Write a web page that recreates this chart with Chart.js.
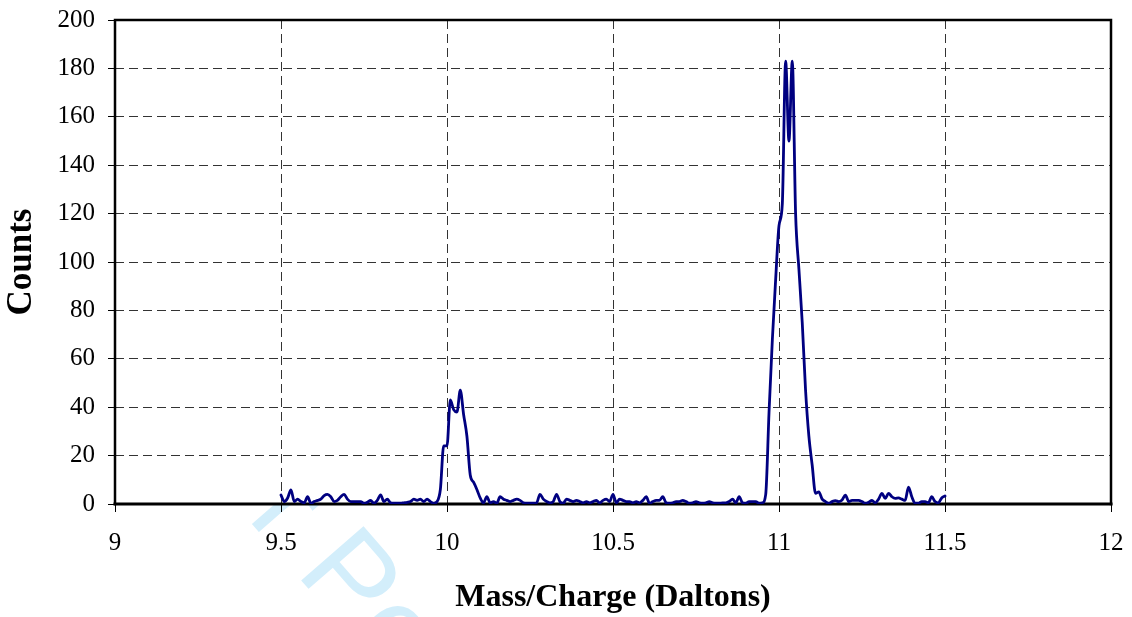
<!DOCTYPE html>
<html>
<head>
<meta charset="utf-8">
<script src="https://cdn.jsdelivr.net/npm/chart.js@4.4.1/dist/chart.umd.min.js"></script>
<style>
  html, body { margin: 0; padding: 0; background: #ffffff; }
  #wrap { width: 1132px; height: 617px; }
</style>
</head>
<body>
<div id="wrap"><canvas id="c" width="1132" height="617" style="width:1132px;height:617px"></canvas></div>
<script>
// ---------------- data ----------------
const masses = [
  9.50, 9.51, 9.52, 9.53, 9.54, 9.55, 9.56, 9.57, 9.58, 9.59,
  9.60, 9.61, 9.62, 9.63, 9.64, 9.65, 9.66, 9.67, 9.68, 9.69,
  9.70, 9.71, 9.72, 9.73, 9.74, 9.75, 9.76, 9.77, 9.78, 9.79,
  9.80, 9.81, 9.82, 9.83, 9.84, 9.85, 9.86, 9.87, 9.88, 9.89,
  9.90, 9.91, 9.92, 9.93, 9.94, 9.95, 9.96, 9.97, 9.98, 9.99,
  10.00, 10.01, 10.02, 10.03, 10.04, 10.05, 10.06, 10.07, 10.08, 10.09,
  10.10, 10.11, 10.12, 10.13, 10.14, 10.15, 10.16, 10.17, 10.18, 10.19,
  10.20, 10.21, 10.22, 10.23, 10.24, 10.25, 10.26, 10.27, 10.28, 10.29,
  10.30, 10.31, 10.32, 10.33, 10.34, 10.35, 10.36, 10.37, 10.38, 10.39,
  10.40, 10.41, 10.42, 10.43, 10.44, 10.45, 10.46, 10.47, 10.48, 10.49,
  10.50, 10.51, 10.52, 10.53, 10.54, 10.55, 10.56, 10.57, 10.58, 10.59,
  10.60, 10.61, 10.62, 10.63, 10.64, 10.65, 10.66, 10.67, 10.68, 10.69,
  10.70, 10.71, 10.72, 10.73, 10.74, 10.75, 10.76, 10.77, 10.78, 10.79,
  10.80, 10.81, 10.82, 10.83, 10.84, 10.85, 10.86, 10.87, 10.88, 10.89,
  10.90, 10.91, 10.92, 10.93, 10.94, 10.95, 10.96, 10.97, 10.98, 10.99,
  11.00, 11.01, 11.02, 11.03, 11.04, 11.05, 11.06, 11.07, 11.08, 11.09,
  11.10, 11.11, 11.12, 11.13, 11.14, 11.15, 11.16, 11.17, 11.18, 11.19,
  11.20, 11.21, 11.22, 11.23, 11.24, 11.25, 11.26, 11.27, 11.28, 11.29,
  11.30, 11.31, 11.32, 11.33, 11.34, 11.35, 11.36, 11.37, 11.38, 11.39,
  11.40, 11.41, 11.42, 11.43, 11.44, 11.45, 11.46, 11.47, 11.48, 11.49,
  11.50
];

const counts = [
  3.7, 1, 2.5, 5.8, 1, 2, 1, 0.5, 3, 0.3,
  1, 1.5, 2, 3.5, 4, 3, 1, 1.5, 3, 4,
  2, 1, 1, 1, 1, 0.3, 0.7, 1.5, 0.3, 1.5,
  3.8, 1, 2, 0.5, 0.3, 0.3, 0.3, 0.5, 0.7, 1,
  2, 1.5, 2, 1, 2, 1, 0.3, 1, 6, 24,
  24, 43, 39, 38, 47, 37, 28, 12, 9, 6,
  2.5, 0.5, 3, 0.5, 1, 0.3, 3, 2, 1.5, 1,
  1.5, 2, 1.5, 0.5, 0.3, 0.3, 0.3, 0.5, 4, 2,
  1, 0.5, 1, 4, 1, 0.3, 2, 1.5, 1, 1.5,
  1, 0.5, 1, 0.5, 1, 1.5, 0.5, 1.5, 2, 1,
  4, 0.5, 2, 1.5, 1, 1, 0.5, 1, 0.5, 1.5,
  3, 0.3, 1, 1.5, 1.5, 3, 0.5, 0.3, 0.5, 1,
  1, 1.5, 1, 0.3, 0.5, 1, 0.5, 0.3, 0.5, 1,
  0.5, 0.3, 0.3, 0.5, 0.5, 1, 2, 0.5, 3, 0.5,
  0.3, 1, 1, 1, 0.3, 0.5, 4, 38, 68, 93,
  115, 124, 183, 150, 183, 120, 97, 75, 47, 28,
  16, 4.4, 5, 2, 1, 0.3, 1, 1.4, 1, 1.7,
  3.7, 1, 1.5, 1.5, 1.5, 1, 0.3, 0.7, 1.5, 0.5,
  2, 4.4, 2.3, 4.4, 3, 2.3, 2.5, 2, 1.5, 7,
  3, 0.3, 0.3, 1, 1, 0.5, 3, 1, 0.5, 2.5,
  3.3
];

const xTickValues = [9, 9.5, 10, 10.5, 11, 11.5, 12];
const xTickLabels = ['9', '9.5', '10', '10.5', '11', '11.5', '12'];
const yTickValues = [0, 20, 40, 60, 80, 100, 120, 140, 160, 180, 200];
const yTickLabels = ['0', '20', '40', '60', '80', '100', '120', '140', '160', '180', '200'];

const xTitle = 'Mass/Charge (Daltons)';
const yTitle = 'Counts';
const watermarkText = 'For Peer Review';

// ---------------- styling ----------------
const SERIF = '"Liberation Serif", "Times New Roman", Times, serif';
const tickFont = { family: SERIF, size: 25 };
const xTitleFont = { family: SERIF, size: 32, weight: 'bold' };
const yTitleFont = { family: SERIF, size: 35, weight: 'bold' };

const backgroundPlugin = {
  id: 'bg',
  beforeDraw(chart) {
    const { ctx, chartArea: a } = chart;
    ctx.save();
    ctx.fillStyle = '#ffffff';
    ctx.fillRect(0, 0, chart.width, chart.height);
    // watermark (behind the white plot area)
    ctx.translate(154.7, 412);
    ctx.rotate(49 * Math.PI / 180);
    ctx.fillStyle = '#d3eefb';
    ctx.font = '120px "Liberation Sans", Arial, sans-serif';
    ctx.textBaseline = 'alphabetic';
    ctx.textAlign = 'left';
    ctx.fillText(watermarkText, 0, 0);
    ctx.restore();
    ctx.save();
    ctx.fillStyle = '#ffffff';
    ctx.fillRect(a.left, a.top, a.right - a.left, a.bottom - a.top);
    ctx.restore();
  }
};

const framePlugin = {
  id: 'frame',
  beforeDatasetsDraw(chart) {
    const { ctx, chartArea: a } = chart;
    ctx.save();
    ctx.strokeStyle = '#000000';
    ctx.lineCap = 'square';
    ctx.lineWidth = 2.5;
    ctx.beginPath();
    ctx.moveTo(a.left, a.bottom);
    ctx.lineTo(a.left, a.top);
    ctx.lineTo(a.right, a.top);
    ctx.lineTo(a.right, a.bottom);
    ctx.stroke();
    ctx.lineWidth = 3;
    ctx.beginPath();
    ctx.moveTo(a.left, a.bottom);
    ctx.lineTo(a.right, a.bottom);
    ctx.stroke();
    ctx.restore();
  }
};

const ctx = document.getElementById('c').getContext('2d');
new Chart(ctx, {
  type: 'line',
  data: {
    datasets: [{
      data: masses.map((m, i) => ({ x: m, y: counts[i] })),
      borderColor: '#000080',
      borderWidth: 2.8,
      pointRadius: 0,
      fill: false,
      cubicInterpolationMode: 'monotone',
      borderJoinStyle: 'round',
      borderCapStyle: 'round'
    }]
  },
  options: {
    responsive: false,
    animation: false,
    devicePixelRatio: 1,
    layout: { padding: { top: 20, right: 21, left: 0, bottom: 0 } },
    plugins: { legend: { display: false }, tooltip: { enabled: false } },
    scales: {
      x: {
        type: 'linear',
        min: 9, max: 12,
        afterBuildTicks: s => { s.ticks = xTickValues.map(v => ({ value: v })); },
        ticks: {
          color: '#000',
          font: tickFont,
          padding: 16,
          maxRotation: 0,
          autoSkip: false,
          callback: v => { const i = xTickValues.indexOf(v); return i >= 0 ? xTickLabels[i] : ''; }
        },
        grid: {
          color: '#333',
          lineWidth: 1,
          drawTicks: true,
          tickLength: 8,
          tickColor: '#000',
          tickWidth: 1
        },
        border: { display: false, dash: [9, 5] },
        title: { display: true, text: xTitle, color: '#000', font: xTitleFont, padding: { top: 0, bottom: 0 } },
        afterFit: s => { s.height = 113; s.paddingLeft = 0; s.paddingRight = 0; }
      },
      y: {
        type: 'linear',
        min: 0, max: 200,
        afterBuildTicks: s => { s.ticks = yTickValues.map(v => ({ value: v })); },
        ticks: {
          color: '#000',
          font: tickFont,
          padding: 13,
          autoSkip: false,
          callback: v => { const i = yTickValues.indexOf(v); return i >= 0 ? yTickLabels[i] : ''; }
        },
        grid: {
          color: '#333',
          lineWidth: 1,
          drawTicks: true,
          tickLength: 7,
          tickColor: '#000',
          tickWidth: 1
        },
        border: { display: false, dash: [9, 5] },
        title: { display: true, text: yTitle, color: '#000', font: yTitleFont, padding: { top: 1, bottom: 0 } },
        afterFit: s => { s.width = 115; s.paddingTop = 0; s.paddingBottom = 0; }
      }
    }
  },
  plugins: [backgroundPlugin, framePlugin]
});
</script>
</body>
</html>
